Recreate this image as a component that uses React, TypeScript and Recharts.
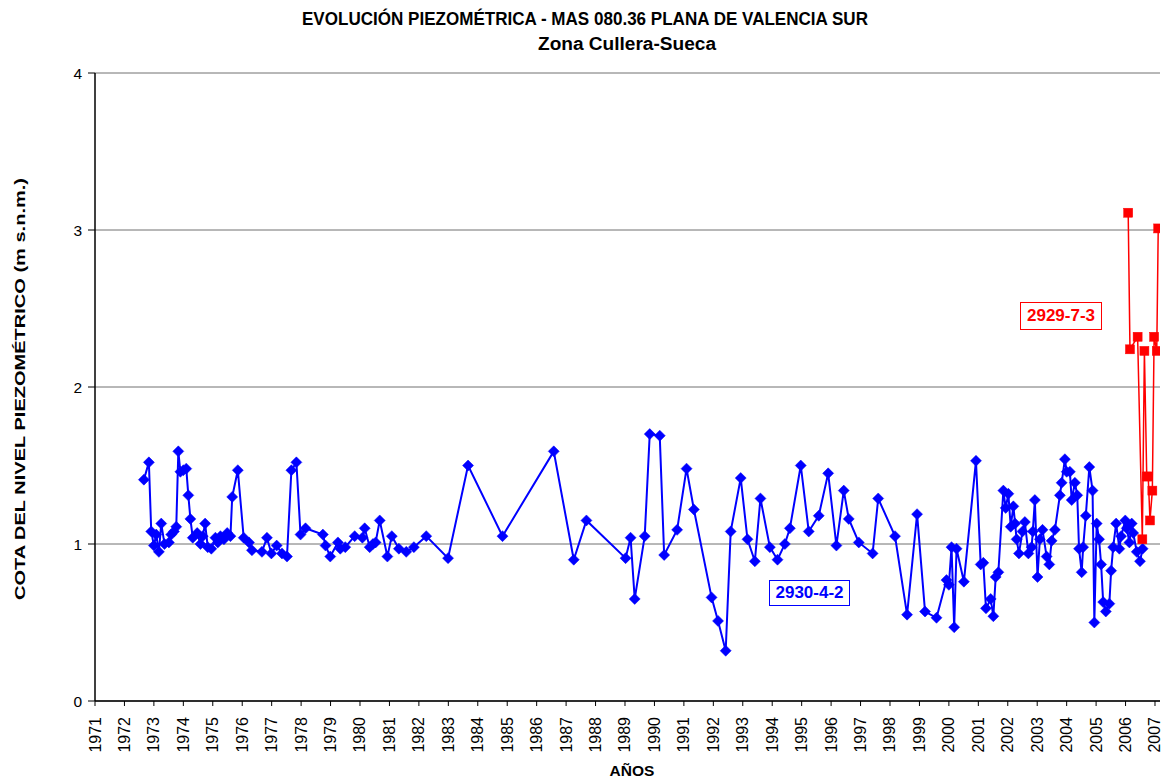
import React from 'react';
import { LineChart, Line, XAxis, YAxis, CartesianGrid } from 'recharts';

const yearTicks = [1971,1972,1973,1974,1975,1976,1977,1978,1979,1980,1981,1982,1983,1984,1985,1986,1987,1988,1989,1990,1991,1992,1993,1994,1995,1996,1997,1998,1999,2000,2001,2002,2003,2004,2005,2006,2007];
const levelTicks = [0, 1, 2, 3, 4];

const blueYears = [
  1972.66,1972.83,1972.91,1973.00,1973.08,1973.17,1973.25,1973.36,1973.51,1973.59,1973.68,1973.76,1973.83,1973.90,1974.00,1974.10,1974.17,1974.24,1974.32,1974.47,1974.58,1974.66,1974.74,1974.83,1974.95,
  1975.09,1975.17,1975.26,1975.38,1975.49,1975.60,1975.66,1975.85,1976.05,1976.23,1976.33,1976.67,1976.84,1976.99,1977.17,1977.35,1977.52,1977.67,1977.84,1977.98,1978.15,1978.74,1978.83,1978.99,1979.25,
  1979.33,1979.50,1979.82,1980.08,1980.16,1980.33,1980.44,1980.53,1980.67,1980.93,1981.08,1981.32,1981.57,1981.83,1982.25,1982.99,1983.67,1984.84,1986.58,1987.26,1987.69,1989.02,1989.19,1989.33,1989.67,
  1989.84,1990.18,1990.33,1990.77,1991.09,1991.34,1991.94,1992.16,1992.42,1992.59,1992.93,1993.16,1993.41,1993.60,1993.92,1994.18,1994.43,1994.60,1994.97,1995.24,1995.58,1995.90,1996.18,1996.43,1996.60,
  1996.94,1997.41,1997.60,1998.17,1998.58,1998.92,1999.19,1999.58,1999.92,2000.00,2000.09,2000.18,2000.26,2000.51,2000.92,2001.08,2001.17,2001.26,2001.42,2001.51,2001.59,2001.68,2001.85,2001.93,2002.02,
  2002.10,2002.19,2002.25,2002.30,2002.38,2002.50,2002.58,2002.70,2002.81,2002.85,2002.92,2003.01,2003.09,2003.18,2003.32,2003.41,2003.49,2003.60,2003.77,2003.83,2003.94,2004.00,2004.11,2004.17,2004.28,
  2004.36,2004.42,2004.51,2004.56,2004.65,2004.77,2004.88,2004.94,2005.02,2005.10,2005.17,2005.24,2005.33,2005.45,2005.51,2005.58,2005.68,2005.79,2005.85,2005.99,2006.04,2006.13,2006.21,2006.26,2006.38,
  2006.49,2006.58
];
const blueLevels = [
  1.41,1.52,1.08,0.99,1.06,0.95,1.13,1.00,1.01,1.06,1.08,1.11,1.59,1.46,1.47,1.48,1.31,1.16,1.04,1.07,1.00,1.05,1.13,0.98,0.97,
  1.04,1.01,1.05,1.03,1.07,1.05,1.30,1.47,1.04,1.01,0.96,0.95,1.04,0.94,0.99,0.94,0.92,1.47,1.52,1.06,1.10,1.06,0.99,0.92,1.01,
  0.97,0.98,1.05,1.04,1.10,0.98,1.00,1.01,1.15,0.92,1.05,0.97,0.95,0.98,1.05,0.91,1.50,1.05,1.59,0.90,1.15,0.91,1.04,0.65,1.05,
  1.70,1.69,0.93,1.09,1.48,1.22,0.66,0.51,0.32,1.08,1.42,1.03,0.89,1.29,0.98,0.90,1.00,1.10,1.50,1.08,1.18,1.45,0.99,1.34,1.16,
  1.01,0.94,1.29,1.05,0.55,1.19,0.57,0.53,0.77,0.74,0.98,0.47,0.97,0.76,1.53,0.87,0.88,0.59,0.65,0.54,0.79,0.82,1.34,1.23,1.32,
  1.11,1.24,1.13,1.03,0.94,1.08,1.14,0.94,0.98,1.08,1.28,0.79,1.03,1.09,0.92,0.87,1.02,1.09,1.31,1.39,1.54,1.46,1.46,1.28,1.39,
  1.31,0.97,0.82,0.98,1.18,1.49,1.34,0.50,1.13,1.03,0.87,0.63,0.57,0.62,0.83,0.98,1.13,0.97,1.05,1.15,1.10,1.01,1.13,1.07,0.95,
  0.89,0.97
];

const redYears = [2006.09,2006.15,2006.41,2006.57,2006.64,2006.72,2006.77,2006.83,2006.91,2006.97,2007.06,2007.11];
const redLevels = [3.11,2.24,2.32,1.03,2.23,1.43,1.43,1.15,1.34,2.32,2.23,3.01];

const blueData = blueYears.map((x, i) => ({ x, y: blueLevels[i] }));
const redData = redYears.map((x, i) => ({ x, y: redLevels[i] }));

const FONT = '"Liberation Sans", Arial, sans-serif';

const Diamond = (props: any) => {
  const { cx, cy } = props;
  if (cx == null || cy == null) return null;
  const r = 5.5;
  return <polygon points={`${cx},${cy - r} ${cx + r},${cy} ${cx},${cy + r} ${cx - r},${cy}`} fill="#0000FF" stroke="#0000FF" strokeWidth={0.5} />;
};

const Square = (props: any) => {
  const { cx, cy } = props;
  if (cx == null || cy == null) return null;
  const s = 9;
  return <rect x={cx - s / 2} y={cy - s / 2} width={s} height={s} fill="#FF0000" stroke="#FF0000" strokeWidth={0.5} />;
};

const XTick = (props: any) => {
  const { x, y, payload } = props;
  const ax = x + 5.5;
  const ay = y + 9;
  return (
    <text
      x={ax}
      y={ay}
      transform={`rotate(-90, ${ax}, ${ay})`}
      textAnchor="end"
      fontSize={16}
      fontFamily={FONT}
      fill="#000"
    >
      {payload.value}
    </text>
  );
};

const YTick = (props: any) => {
  const { x, y, payload } = props;
  return (
    <text x={x - 4} y={y + 5.5} textAnchor="end" fontSize={15.5} fontFamily={FONT} fill="#000">
      {payload.value}
    </text>
  );
};

export default function App() {
  return (
    <div style={{ position: 'absolute', left: 0, top: 0, width: 1162, height: 779, background: '#fff', fontFamily: FONT }}>
      <LineChart
        width={1162}
        height={779}
        margin={{ top: 73, right: 2, bottom: 0, left: 0 }}
        style={{ position: 'absolute', left: 0, top: 0 }}
      >
        <CartesianGrid horizontal={true} vertical={false} stroke="#707070" strokeWidth={1} />
        <XAxis
          type="number"
          dataKey="x"
          domain={[1971, 2007.17]}
          ticks={yearTicks}
          interval={0}
          allowDataOverflow
          height={78}
          axisLine={{ stroke: '#000', strokeWidth: 1.5 }}
          tickLine={{ stroke: '#000' }}
          tickSize={5}
          tick={<XTick />}
        />
        <YAxis
          type="number"
          domain={[0, 4]}
          ticks={levelTicks}
          width={95}
          axisLine={{ stroke: '#000', strokeWidth: 1.5 }}
          tickLine={{ stroke: '#000' }}
          tickSize={7}
          tick={<YTick />}
        />
        <Line
          data={blueData}
          dataKey="y"
          type="linear"
          stroke="#0000FF"
          strokeWidth={2}
          dot={<Diamond />}
          activeDot={false}
          isAnimationActive={false}
        />
        <Line
          data={redData}
          dataKey="y"
          type="linear"
          stroke="#FF0000"
          strokeWidth={1.5}
          dot={<Square />}
          activeDot={false}
          isAnimationActive={false}
        />
      </LineChart>
      <div style={{ position: 'absolute', left: 0, top: 0, width: 1162, height: 779, pointerEvents: 'none' }}>
        <svg width={1162} height={779} style={{ position: 'absolute', left: 0, top: 0 }}>
          <text x={585} y={25} textAnchor="middle" fontSize={17.5} fontWeight="bold" fontFamily={FONT} fill="#000" textLength={566} lengthAdjust="spacingAndGlyphs">
            EVOLUCIÓN PIEZOMÉTRICA - MAS 080.36 PLANA DE VALENCIA SUR
          </text>
          <text x={627} y={50} textAnchor="middle" fontSize={17.5} fontWeight="bold" fontFamily={FONT} fill="#000" textLength={178} lengthAdjust="spacingAndGlyphs">
            Zona Cullera-Sueca
          </text>
          <text
            x={25}
            y={389}
            transform="rotate(-90, 25, 389)"
            textAnchor="middle"
            fontSize={15}
            fontWeight="bold"
            fontFamily={FONT}
            fill="#000"
            textLength={422}
            lengthAdjust="spacingAndGlyphs"
          >
            COTA DEL NIVEL PIEZOMÉTRICO (m s.n.m.)
          </text>
          <text x={632} y={776} textAnchor="middle" fontSize={15.5} fontWeight="bold" fontFamily={FONT} fill="#000">
            AÑOS
          </text>
        </svg>
        <div style={{ position: 'absolute', left: 769, top: 580, width: 79, height: 24, border: '1px solid #0000FF', background: '#fff', color: '#0000FF', fontWeight: 'bold', fontSize: 17, lineHeight: '24px', textAlign: 'center' }}>
          2930-4-2
        </div>
        <div style={{ position: 'absolute', left: 1020, top: 302, width: 80, height: 26, border: '1px solid #FF0000', background: '#fff', color: '#FF0000', fontWeight: 'bold', fontSize: 17, lineHeight: '26px', textAlign: 'center' }}>
          2929-7-3
        </div>
      </div>
    </div>
  );
}
